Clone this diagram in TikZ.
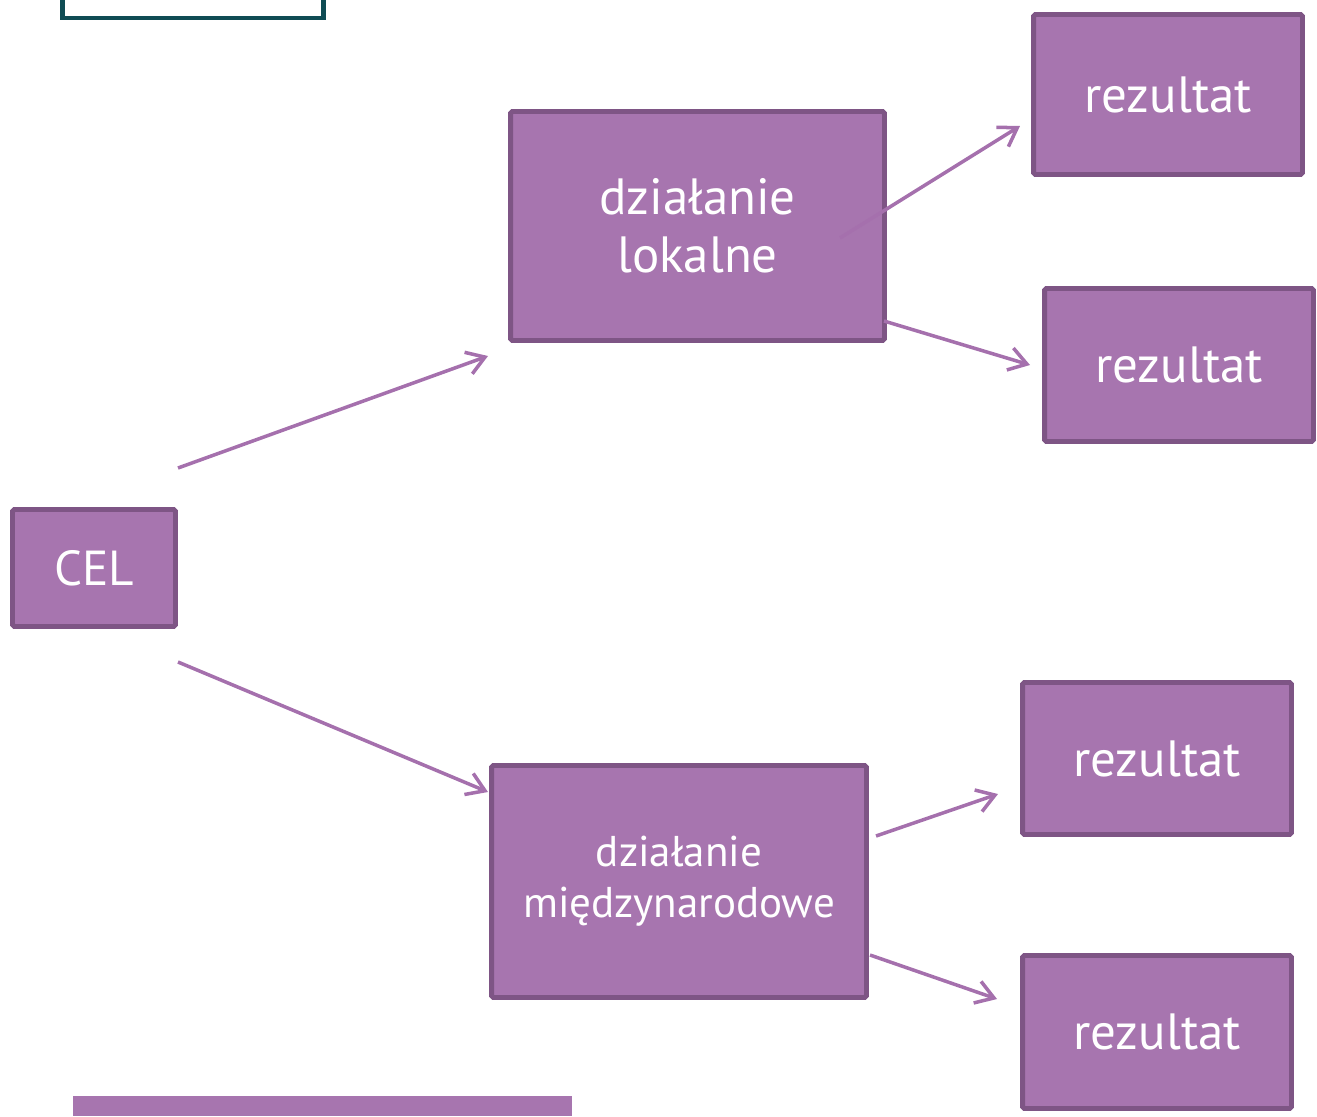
\documentclass[tikz,border=0pt]{standalone}
\usepackage{fontspec}
\setmainfont{PT Sans}
\usetikzlibrary{arrows.meta, positioning}
\definecolor{celfill}{HTML}{A775AF}
\definecolor{celdraw}{HTML}{7E5585}
\definecolor{celline}{HTML}{A570AD}
\definecolor{tealframe}{HTML}{0F4C54}

\begin{document}
\begin{tikzpicture}[
    x=0.02cm, y=-0.02cm,
    box/.style={draw=celdraw, fill=celfill, line width=2.8pt, rounded corners=1pt,
        text=white, align=center, inner sep=0pt},
    big/.style={font=\fontsize{29}{33}\selectfont},
    link/.style={draw=celline, line width=2pt, -{Straight Barb[length=10pt, width=13pt, line width=2pt]}}
]
    \useasboundingbox (0,0) rectangle (1317,1116);

    % frame cut off at the top
    \node[draw=tealframe, line width=2.4pt, minimum width=5.22cm, minimum height=1.2cm] (frame) at (193,-12) {};

    % goal
    \node[box, font=\fontsize{28}{33}\selectfont, minimum width=3.26cm, minimum height=2.34cm] (cel) at (94,568) {CEL};

    % actions
    \node[box, big, minimum width=7.48cm, minimum height=4.58cm] (lokal) at (697.5,226) {działanie\\lokalne};
    \node[box, font=\fontsize{24.5}{29}\selectfont, minimum width=7.5cm, minimum height=4.64cm] (miedzy) at (679,881.5) {działanie\\międzynarodowe};

    % results
    \node[box, big, minimum width=5.38cm, minimum height=3.2cm] (rez1) at (1168,94.5) {rezultat};
    \node[box, big, minimum width=5.38cm, minimum height=3.06cm] (rez2) at (1179,365) {rezultat};
    \node[box, big, minimum width=5.38cm, minimum height=3.04cm] (rez3) at (1157,758.5) {rezultat};
    \node[box, big, minimum width=5.38cm, minimum height=3.06cm] (rez4) at (1157,1032) {rezultat};

    % arrow ends
    \coordinate (c1) at (178,468);
    \coordinate (l0) at (488,356);
    \coordinate (c2) at (178,662);
    \coordinate (m0) at (488,792);
    \coordinate (l1) at (840,238);
    \coordinate (r1) at (1020,126);
    \coordinate (l2) at (884,321);
    \coordinate (r2) at (1030,365);
    \coordinate (m1) at (876,836);
    \coordinate (r3) at (998,794);
    \coordinate (m2) at (870,955);
    \coordinate (r4) at (997,999);

    % arrows
    \draw[link] (c1) -- (l0);
    \draw[link] (c2) -- (m0);
    \draw[link] (l1) -- (r1);
    \draw[link] (l2) -- (r2);
    \draw[link] (m1) -- (r3);
    \draw[link] (m2) -- (r4);

    % bar at the bottom
    \fill[celfill] (73,1096) rectangle (572,1116);
\end{tikzpicture}
\end{document}
